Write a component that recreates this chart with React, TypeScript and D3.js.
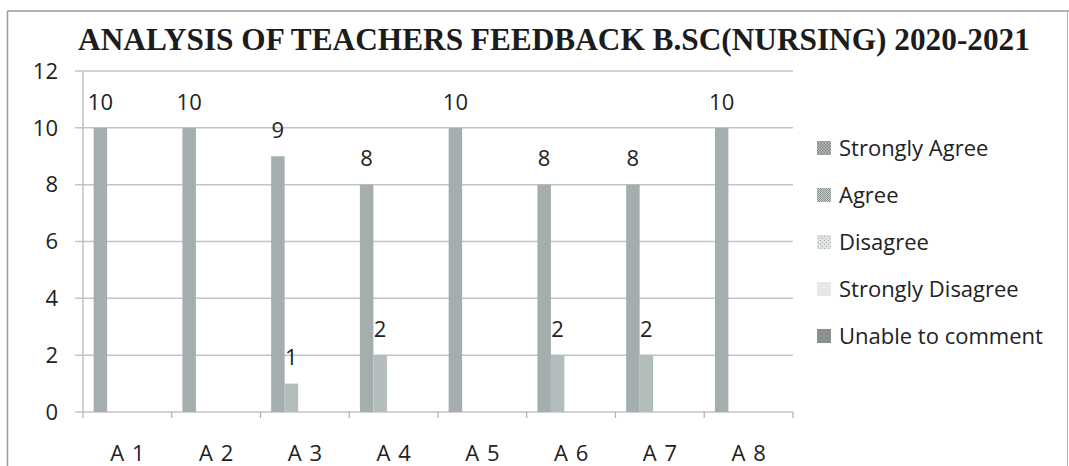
import React from "react";
import * as d3 from "d3";

const categories = ["A 1", "A 2", "A 3", "A 4", "A 5", "A 6", "A 7", "A 8"];
const seriesNames = ["Strongly Agree", "Agree", "Disagree", "Strongly Disagree", "Unable to comment"];
const stronglyAgree = [10, 10, 9, 8, 10, 8, 8, 10];
const agree = [0, 0, 1, 2, 0, 2, 2, 0];
const disagree = [0, 0, 0, 0, 0, 0, 0, 0];
const stronglyDisagree = [0, 0, 0, 0, 0, 0, 0, 0];
const unableToComment = [0, 0, 0, 0, 0, 0, 0, 0];
const yTicks = [0, 2, 4, 6, 8, 10, 12];
const title = "ANALYSIS OF TEACHERS FEEDBACK B.SC(NURSING) 2020-2021";

const seriesValues = [stronglyAgree, agree, disagree, stronglyDisagree, unableToComment];
const barColors = ["#a4aeae", "#b3bdbb", "#c9cfcf", "#e4e7e9", "#8c9293"];
const legendFills = ["url(#patSA)", "url(#patAG)", "url(#patDA)", "#e6e8ea", "#8a8f90"];

export default function App() {
  const W = 1069, H = 466;
  const x = d3.scaleBand<string>().domain(categories).range([83, 793]).padding(0);
  const xs = d3.scaleBand<string>().domain(seriesNames).range([0, x.bandwidth()]).paddingInner(0).paddingOuter(0.79);
  const y = d3.scaleLinear().domain([0, 12]).range([412, 71]);
  const font = "'Open Sans', sans-serif";
  const fs = 22;

  return (
    <svg width={W} height={H} style={{ position: "absolute", left: 0, top: 0, background: "#fff" }}>
      <defs>
        <pattern id="patSA" width="3" height="3" patternUnits="userSpaceOnUse">
          <rect width="3" height="3" fill="#b9bfbf" />
          <rect width="1.5" height="1.5" fill="#7d8585" />
          <rect x="1.5" y="1.5" width="1.5" height="1.5" fill="#7d8585" />
        </pattern>
        <pattern id="patAG" width="2" height="2" patternUnits="userSpaceOnUse">
          <rect width="2" height="2" fill="#c4c9c9" />
          <rect width="1" height="1" fill="#8e9595" />
          <rect x="1" y="1" width="1" height="1" fill="#8e9595" />
        </pattern>
        <pattern id="patDA" width="4" height="4" patternUnits="userSpaceOnUse">
          <rect width="4" height="4" fill="#dfe3e3" />
          <rect width="1" height="1" fill="#a0a8a8" />
          <rect x="2" y="2" width="1" height="1" fill="#b0b6b6" />
        </pattern>
      </defs>
      {/* frame */}
      <line x1={7.5} y1={11} x2={1069} y2={11} stroke="#9a9a9a" strokeWidth={1.5} />
      <line x1={7.5} y1={11} x2={7.5} y2={466} stroke="#9a9a9a" strokeWidth={1.5} />
      <line x1={1067.5} y1={11} x2={1067.5} y2={466} stroke="#b0b0b0" strokeWidth={1} />

      {/* title */}
      <text x={554} y={50} textAnchor="middle" fontFamily="'Liberation Serif', 'Times New Roman', serif" fontWeight="bold" fontSize={31.3} fill="#1c1c1c">
        {title}
      </text>

      {/* gridlines */}
      {yTicks.map((t) => (
        <line key={"g" + t} x1={75} x2={793} y1={y(t)} y2={y(t)} stroke="#c4c4c4" strokeWidth={1.5} />
      ))}
      {/* y labels */}
      {yTicks.map((t) => (
        <text key={"yl" + t} x={58} y={y(t)} dy="0.35em" textAnchor="end" fontFamily={font} fontSize={fs} fill="#222">
          {t}
        </text>
      ))}
      {/* axes */}
      <line x1={83} x2={83} y1={71} y2={418} stroke="#c0c0c0" strokeWidth={1.5} />
      {categories.map((c, i) => (
        <line key={"xt" + i} x1={(x(c) as number) + x.bandwidth()} x2={(x(c) as number) + x.bandwidth()} y1={412} y2={418} stroke="#b0b0b0" strokeWidth={1.2} />
      ))}

      {/* bars */}
      {seriesValues.map((vals, si) =>
        vals.map((v, ci) => {
          if (v <= 0) return null;
          const bx = (x(categories[ci]) as number) + (xs(seriesNames[si]) as number);
          return (
            <rect key={`b${si}-${ci}`} x={bx} y={y(v)} width={xs.bandwidth()} height={y(0) - y(v)} fill={barColors[si]} />
          );
        })
      )}
      {/* value labels */}
      {seriesValues.map((vals, si) =>
        vals.map((v, ci) => {
          if (v <= 0) return null;
          const bx = (x(categories[ci]) as number) + (xs(seriesNames[si]) as number) + xs.bandwidth() / 2;
          return (
            <text key={`l${si}-${ci}`} x={bx} y={y(v) - 26} dy="0.35em" textAnchor="middle" fontFamily={font} fontSize={fs} fill="#222">
              {v}
            </text>
          );
        })
      )}

      {/* x labels */}
      {categories.map((c) => (
        <text key={"xl" + c} x={(x(c) as number) + x.bandwidth() / 2} y={453} dy="0.35em" textAnchor="middle" fontFamily={font} fontSize={fs} fill="#222" style={{ wordSpacing: "2px" }}>
          {c}
        </text>
      ))}

      {/* legend */}
      {seriesNames.map((s, i) => {
        const cy = 148 + i * 47;
        return (
          <g key={"lg" + s}>
            <rect x={817} y={cy - 7} width={14} height={14} fill={legendFills[i]} />
            <text x={839} y={cy} dy="0.35em" fontFamily={font} fontSize={fs} fill="#222">
              {s}
            </text>
          </g>
        );
      })}
    </svg>
  );
}
